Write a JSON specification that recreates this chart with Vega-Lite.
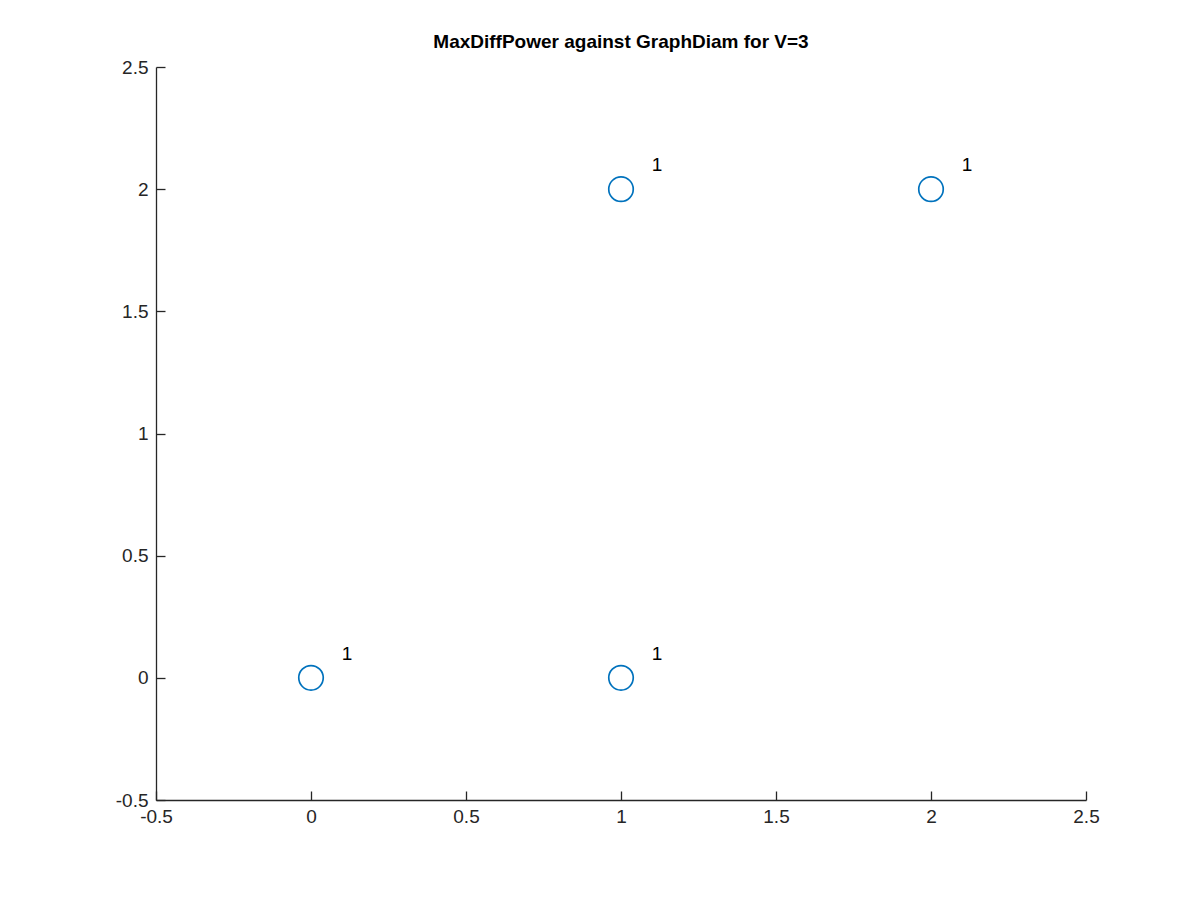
{
  "$schema": "https://vega.github.io/schema/vega-lite/v6.json",
  "width": 930,
  "height": 733,
  "autosize": {"type": "none"},
  "padding": {"left": 156, "top": 67, "right": 114, "bottom": 100},
  "background": "white",
  "title": {"text": "MaxDiffPower against GraphDiam for V=3", "fontSize": 19, "font": "Liberation Sans", "fontWeight": "bold", "color": "black", "offset": 6},
  "data": {"values": [
    {"x": 0, "y": 0, "label": "1"},
    {"x": 1, "y": 0, "label": "1"},
    {"x": 1, "y": 2, "label": "1"},
    {"x": 2, "y": 2, "label": "1"}
  ]},
  "encoding": {
    "x": {"field": "x", "type": "quantitative", "title": null,
      "scale": {"domain": [-0.5, 2.5], "nice": false, "zero": false},
      "axis": {"values": [-0.5, 0, 0.5, 1, 1.5, 2, 2.5], "labelExpr": "replace(format(datum.value, '~g'), '\u2212', '-')", "grid": false, "tickSize": -9, "labelPadding": 16, "labelFlush": false}},
    "y": {"field": "y", "type": "quantitative", "title": null,
      "scale": {"domain": [-0.5, 2.5], "nice": false, "zero": false},
      "axis": {"values": [-0.5, 0, 0.5, 1, 1.5, 2, 2.5], "labelExpr": "replace(format(datum.value, '~g'), '\u2212', '-')", "grid": false, "tickSize": -9, "labelPadding": 17, "labelFlush": false}}
  },
  "layer": [
    {"mark": {"type": "point", "shape": "circle", "size": 600, "color": "#0072BD", "strokeWidth": 1.7, "filled": false, "opacity": 1}},
    {"mark": {"type": "text", "dx": 36, "dy": -24, "fontSize": 19, "font": "Liberation Sans", "color": "black"},
     "encoding": {"text": {"field": "label"}}}
  ],
  "config": {
    "view": {"stroke": null},
    "axis": {"domainColor": "#262626", "tickColor": "#262626", "labelColor": "#262626", "labelFontSize": 19, "labelFont": "Liberation Sans", "domainWidth": 1.3, "tickWidth": 1.3}
  }
}
